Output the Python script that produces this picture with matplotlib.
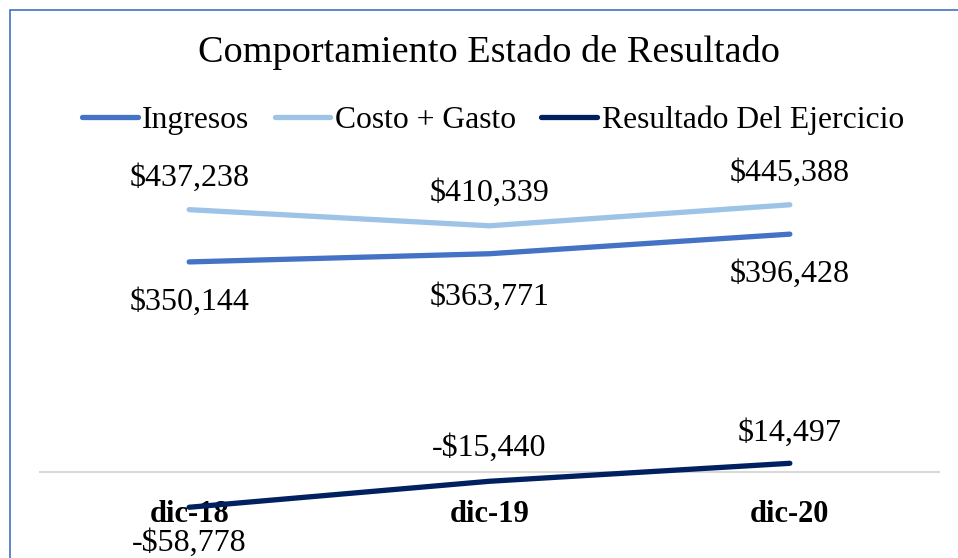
import matplotlib
matplotlib.use("Agg")
import matplotlib.pyplot as plt
from matplotlib.patches import Rectangle

plt.rcParams['font.family'] = ['Liberation Serif', 'DejaVu Serif']

# data
periodos = ['dic-18', 'dic-19', 'dic-20']
ingresos = [350144, 363771, 396428]
costo_gasto = [437238, 410339, 445388]
resultado = [-58778, -15440, 14497]

series = [
    ('Ingresos', ingresos, '#4472C4', [-40, -44, -40]),
    ('Costo + Gasto', costo_gasto, '#9DC3E6', [31, 32, 31]),
    ('Resultado Del Ejercicio', resultado, '#002060', [-36, 33, 30]),
]

def money(v):
    if v < 0:
        return '-${:,.0f}'.format(-v)
    return '${:,.0f}'.format(v)

fig = plt.figure(figsize=(9.58, 5.58), dpi=100)
fig.patch.set_facecolor('white')

ax = fig.add_axes([39 / 958, 26 / 558, 901 / 958, 360 / 558])
x = list(range(len(periodos)))

for name, vals, color, offs in series:
    ax.plot(x, vals, color=color, lw=3.8, solid_capstyle='round', label=name, zorder=3)
    for xi, v, off in zip(x, vals, offs):
        ax.annotate(money(v), (xi, v), xytext=(0, off), textcoords='offset pixels',
                    ha='center', va='center', fontsize=23)

ax.axhline(0, color='#D9D9D9', lw=1.5, zorder=1)
ax.set_xlim(-0.5, 2.5)
ax.set_ylim(-100000, 500000)
ax.set_yticks([])
ax.set_xticks([])
for s in ax.spines.values():
    s.set_visible(False)

# category labels sit below the zero line
for xi, p in zip(x, periodos):
    ax.annotate(p, (xi, 0), xytext=(0, -42), textcoords='offset pixels',
                ha='center', va='center', fontsize=22, fontweight='bold', zorder=2)

fig.text(0.51, 1 - 53 / 558, 'Comportamiento Estado de Resultado',
         ha='center', va='center', fontsize=27.5)

fig.legend(loc='center', bbox_to_anchor=(493 / 958, 1 - 120 / 558), ncol=3,
           frameon=False, fontsize=22.8, handlelength=1.75, handletextpad=0.15,
           columnspacing=0.8, borderpad=0)

fig.patches.append(Rectangle((9.5 / 958, -0.1), 1.2, 1 - 9.5 / 558 + 0.1,
                             transform=fig.transFigure, fill=False,
                             edgecolor='#4472C4', lw=1.2))

fig.savefig('out.png', dpi=100)
